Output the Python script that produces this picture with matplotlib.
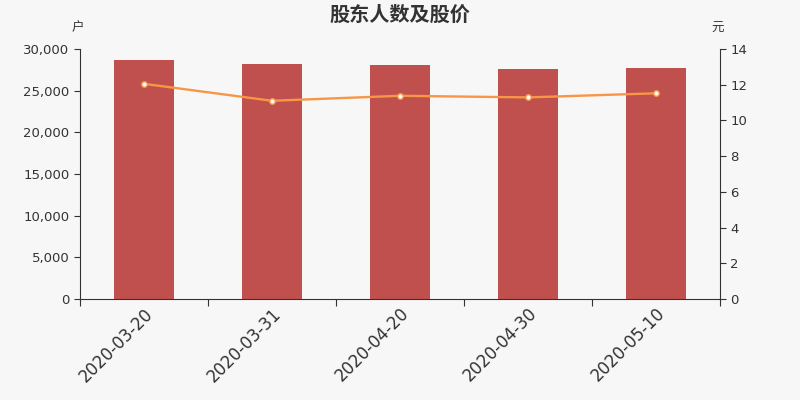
import matplotlib
matplotlib.use('Agg')
import matplotlib.pyplot as plt
import numpy as np

plt.rcParams['font.family'] = ['DejaVu Sans', 'Noto Sans CJK SC']

# data
dates = ['2020-03-20', '2020-03-31', '2020-04-20', '2020-04-30', '2020-05-10']
holders = [28700, 28200, 28050, 27550, 27700]
price = [12.05, 11.1, 11.38, 11.29, 11.52]

bg = '#f7f7f7'
txt = '#333333'

fig = plt.figure(figsize=(8, 4), dpi=100, facecolor=bg)
ax = fig.add_axes([0.1, 0.2525, 0.8, 0.625], facecolor=bg)

x = np.arange(len(dates))
ax.bar(x, holders, width=0.47, color='#c0504d', zorder=2)
ax.set_xlim(-0.5, len(dates) - 0.5)
ax.set_ylim(0, 30000)
ax.set_yticks(range(0, 30001, 5000))
ax.set_yticklabels(['{:,}'.format(v) for v in range(0, 30001, 5000)])
ax.set_xticks(np.arange(len(dates) + 1) - 0.5)
ax.set_xticklabels([])
ax.set_xticks(x, minor=True)
ax.set_xticklabels(dates, minor=True, rotation=45, ha='right', rotation_mode='anchor',
                   fontsize=12, color=txt)
ax.tick_params(axis='x', which='minor', length=0, pad=4)
ax.tick_params(axis='x', which='major', length=5, color=txt)
ax.tick_params(axis='y', labelsize=9.5, colors=txt, length=4)
ax.spines['top'].set_visible(False)
ax.spines['right'].set_visible(False)
for s in ['left', 'bottom']:
    ax.spines[s].set_color(txt)

ax2 = ax.twinx()
ax2.plot(x, price, color='#f79646', linewidth=1.7, zorder=3,
         marker='o', markersize=4, markerfacecolor='white', markeredgecolor='#f79646', markeredgewidth=1)
ax2.set_ylim(0, 14)
ax2.set_yticks(range(0, 15, 2))
ax2.tick_params(axis='y', labelsize=9.5, colors=txt, length=4)
ax2.spines['top'].set_visible(False)
ax2.spines['left'].set_visible(False)
ax2.spines['bottom'].set_visible(False)
ax2.spines['right'].set_color(txt)

fig.text(0.5, 0.965, '股东人数及股价', ha='center', va='center', fontsize=14.5,
         fontweight='bold', color=txt, family=['Noto Sans CJK SC'])
fig.text(0.0975, 0.93, '户', ha='center', va='center', fontsize=9, color=txt, family=['Noto Sans CJK SC'])
fig.text(0.8975, 0.93, '元', ha='center', va='center', fontsize=9, color=txt, family=['Noto Sans CJK SC'])

fig.savefig('out.png', facecolor=bg)
